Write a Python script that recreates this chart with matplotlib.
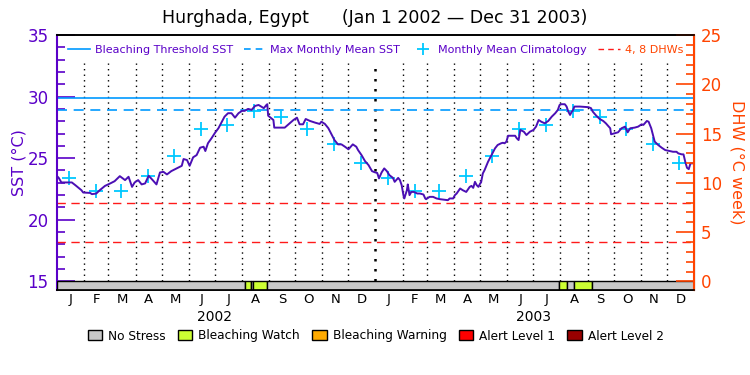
import numpy as np
import pandas as pd
import matplotlib
matplotlib.use("Agg")
import matplotlib.pyplot as plt
from matplotlib.lines import Line2D
from matplotlib.patches import Patch
from matplotlib.ticker import MultipleLocator
import matplotlib.transforms as mtransforms

# ---- data ----
start_date = "2002-01-01"
end_date = "2004-01-01"

# days since Jan 1 2002 and SST (deg C)
sst_day = [0, 2, 5, 17, 21, 28, 30, 38, 40, 45, 49, 55, 61, 66, 72, 78, 82, 86, 89, 93,
           97, 101, 105, 108, 114, 116, 118, 122, 126, 131, 141, 143, 145, 149, 152, 156,
           160, 164, 168, 170, 173, 177, 181, 185, 189, 192, 196, 200, 204, 208, 212, 215,
           219, 223, 227, 231, 235, 237, 240, 241, 242, 248, 249, 261, 271, 275, 278, 282,
           285, 290, 296, 301, 303, 307, 311, 315, 318, 322, 326, 330, 334, 339, 343, 345,
           349, 353, 357, 361, 364, 367, 369, 372, 375, 378, 381, 385, 387, 391, 393, 395,
           397, 398, 401, 402, 404, 406, 409, 413, 416, 420, 422, 423, 427, 431, 435, 439,
           448, 450, 454, 456, 458, 462, 465, 469, 473, 475, 477, 479, 481, 483, 485, 486,
           488, 490, 494, 496, 500, 502, 505, 509, 511, 513, 515, 517, 525, 527, 529, 531,
           535, 538, 542, 546, 549, 552, 555, 559, 563, 567, 571, 574, 576, 578, 582, 584,
           586, 588, 590, 591, 593, 599, 609, 612, 614, 618, 622, 626, 629, 634, 635, 639,
           643, 647, 651, 654, 657, 662, 666, 670, 672, 676, 678, 681, 683, 685, 689, 693,
           697, 701, 706, 710, 712, 716, 718, 720, 722, 724, 726, 729]
sst_val = [23.54, 23.40, 23.03, 23.03, 22.81, 22.40, 22.21, 22.18, 22.08, 22.13, 22.40, 22.75,
           22.95, 23.13, 23.54, 23.22, 23.49, 22.67, 23.03, 23.22, 22.87, 22.95, 23.57, 23.35,
           22.87, 23.35, 23.84, 23.89, 23.68, 23.95, 24.30, 24.38, 24.93, 24.85, 24.38, 25.07,
           25.25, 25.85, 25.93, 25.58, 26.21, 26.61, 27.05, 27.43, 27.96, 28.37, 28.65, 28.65,
           28.29, 28.65, 28.84, 28.84, 29.00, 28.92, 29.24, 29.32, 29.14, 29.06, 29.32, 29.38,
           28.45, 28.10, 27.48, 27.48, 28.10, 28.29, 27.75, 27.75, 28.18, 28.02, 27.88, 27.78,
           27.96, 27.78, 27.43, 26.88, 26.47, 26.12, 26.12, 25.93, 25.72, 26.12, 25.93, 25.66,
           25.25, 24.76, 24.44, 23.95, 23.86, 23.80, 23.36, 23.84, 24.17, 23.95, 23.62, 23.40,
           23.08, 23.40, 23.22, 22.81, 22.00, 21.73, 22.40, 22.87, 22.00, 22.26, 22.26, 22.13,
           22.13, 22.05, 21.73, 21.67, 21.86, 21.86, 21.73, 21.67, 21.59, 21.73, 21.73, 22.00,
           22.13, 22.54, 22.40, 22.26, 22.67, 22.75, 22.59, 23.08, 22.81, 22.67, 22.95, 23.03,
           23.76, 24.03, 24.71, 24.98, 25.52, 25.80, 26.07, 26.21, 26.25, 26.21, 26.34, 26.82,
           26.82, 26.61, 26.47, 27.29, 27.15, 26.88, 27.15, 27.29, 27.56, 28.10, 27.96, 27.83,
           28.02, 28.37, 28.65, 28.92, 29.32, 29.38, 29.38, 29.19, 28.78, 28.51, 28.78, 28.84,
           29.19, 29.19, 29.14, 29.06, 28.78, 28.45, 28.18, 28.02, 27.83, 27.43, 26.94, 27.02,
           27.10, 27.43, 27.56, 27.10, 27.43, 27.48, 27.56, 27.75, 27.70, 28.02, 27.96, 27.43,
           26.88, 26.34, 26.07, 25.85, 25.66, 25.60, 25.52, 25.52, 25.39, 25.31, 25.31, 24.71,
           24.22, 24.11, 24.58, 24.58]

# monthly mean climatology (Jan..Dec)
clim_months = ["Jan", "Feb", "Mar", "Apr", "May", "Jun", "Jul", "Aug", "Sep", "Oct", "Nov", "Dec"]
clim_sst = [23.40, 22.32, 22.32, 23.54, 25.17, 27.35, 27.70, 28.86, 28.32, 27.35, 26.12, 24.58]

mmm_sst = 28.9          # max monthly mean
threshold_sst = 29.9    # bleaching threshold = MMM + 1
dhw_levels = [4, 8]

# bleaching alert status periods (days since Jan 1 2002)
status_start = [0, 216, 222, 225, 241, 575, 585, 593, 613]
status_end = [216, 222, 225, 241, 575, 585, 593, 613, 730]
status_level = [0, 1, 0, 1, 0, 1, 0, 1, 0]

status_names = ["No Stress", "Bleaching Watch", "Bleaching Warning", "Alert Level 1", "Alert Level 2"]
status_colors = ["#c8c8c8", "#ccff33", "#ffaa00", "#ff0000", "#990000"]

month_letters = list("JFMAMJJASOND")
years = ["2002", "2003"]

# ---- styling ----
sst_color = "#5a00c8"
line_color = "#4b0fb4"
thr_color = "#0099ff"
clim_color = "#00c8ff"
dhw_color = "#ff4400"
dhw_line_color = "#ff1a1a"

sst_lo, sst_hi = 14.3, 35.0
dhw_per_sst = 1.25  # 20 deg C span <-> 25 DHW span

t0 = pd.Timestamp(start_date)
t_end = pd.Timestamp(end_date)
dates = t0 + pd.to_timedelta(sst_day, unit="D")

fig = plt.figure(figsize=(7.5, 3.75), dpi=100)
ax = fig.add_axes([0.076, 0.2267, 0.8493, 0.68])

ax.set_xlim(t0, t_end)
ax.set_ylim(sst_lo, sst_hi)

# month grid
month_starts = pd.date_range(t0, t_end, freq="MS")
for ms in month_starts[1:-1]:
    lw = 1.8 if ms.month == 1 else 1.0
    ax.plot([ms, ms], [15, 32.7], color="black", lw=lw, ls=(0, (1, 3)), zorder=1)

# reference lines
ax.axhline(threshold_sst, color=thr_color, lw=1.2, zorder=2)
ax.axhline(mmm_sst, color=thr_color, lw=1.2, ls=(0, (6, 4)), zorder=2)
for lev in dhw_levels:
    ax.axhline(15 + lev / dhw_per_sst, color=dhw_line_color, lw=1.0, ls=(0, (6, 4)), zorder=2)

# climatology crosses at mid-month
for y in years:
    mids = [pd.Timestamp(f"{y}-{i + 1:02d}-15") for i in range(12)]
    ax.plot(mids, clim_sst, ls="none", marker="+", ms=10, mew=1.3, color=clim_color, zorder=3)

ax.plot(dates, sst_val, color=line_color, lw=1.4, zorder=4)

# status bar
for s, e, lev in zip(status_start, status_end, status_level):
    ax.axvspan(t0 + pd.Timedelta(days=s), t0 + pd.Timedelta(days=e), ymin=0,
               ymax=(15 - sst_lo) / (sst_hi - sst_lo), facecolor=status_colors[lev],
               edgecolor="black", lw=1.0, zorder=5)

# x ticks: month letters centred on each month
mid_month = [a + (b - a) / 2 for a, b in zip(month_starts[:-1], month_starts[1:])]
ax.set_xticks(mid_month)
ax.set_xticklabels(month_letters * 2, fontsize=9.5)
ax.tick_params(axis="x", length=0, pad=2)
trans = mtransforms.blended_transform_factory(ax.transData, ax.transAxes)
for y in years:
    ax.text(pd.Timestamp(f"{y}-07-01"), -0.104, y, transform=trans, ha="center", va="center",
            fontsize=10)

# left axis
ax.set_yticks([15, 20, 25, 30, 35])
ax.yaxis.set_minor_locator(MultipleLocator(1))
ax.tick_params(axis="y", which="major", direction="in", length=13, width=1.2, colors=sst_color,
               labelsize=12, pad=6)
ax.tick_params(axis="y", which="minor", direction="in", length=6, width=1.2, colors=sst_color)
ax.spines["left"].set_color(sst_color)
ax.spines["left"].set_linewidth(1.5)
ax.set_ylabel("SST (°C)", color=sst_color, fontsize=11.5, labelpad=1)

# right axis: DHW
ax2 = ax.twinx()
ax2.set_ylim((sst_lo - 15) * dhw_per_sst, (sst_hi - 15) * dhw_per_sst)
ax2.set_yticks([0, 5, 10, 15, 20, 25])
ax2.yaxis.set_minor_locator(MultipleLocator(1))
ax2.tick_params(axis="y", which="major", direction="in", length=13, width=1.2, colors=dhw_color,
                labelsize=12, pad=5)
ax2.tick_params(axis="y", which="minor", direction="in", length=6, width=1.2, colors=dhw_color)
ax2.spines["right"].set_color(dhw_color)
ax2.spines["right"].set_linewidth(1.5)
ax2.spines["left"].set_visible(False)
ax2.set_ylabel("DHW (°C week)", color=dhw_color, fontsize=11.5, rotation=-90, labelpad=16)

for a in (ax, ax2):
    a.spines["top"].set_linewidth(1.2)
    a.spines["bottom"].set_linewidth(1.2)

fig.suptitle("Hurghada, Egypt      (Jan 1 2002 \u2014 Dec 31 2003)", x=0.5, y=0.975,
             fontsize=12.5, va="top")

# top legend
handles = [
    Line2D([], [], color=thr_color, lw=1.2),
    Line2D([], [], color=thr_color, lw=1.2, ls=(0, (4, 3))),
    Line2D([], [], color=clim_color, ls="none", marker="+", ms=9, mew=1.3),
    Line2D([], [], color=dhw_line_color, lw=1.0, ls=(0, (4, 3))),
]
labels = ["Bleaching Threshold SST", "Max Monthly Mean SST", "Monthly Mean Climatology", "4, 8 DHWs"]
leg = ax.legend(handles, labels, loc="center", bbox_to_anchor=(0.5, 0.94), ncol=4, frameon=False,
                fontsize=8, handlelength=2.0, handletextpad=0.4, columnspacing=1.0)
for txt, c in zip(leg.get_texts(), [sst_color, sst_color, sst_color, dhw_color]):
    txt.set_color(c)

# status legend
patches = [Patch(facecolor=c, edgecolor="black", lw=1.0) for c in status_colors]
fig.legend(patches, status_names, loc="center", bbox_to_anchor=(0.501, 0.104), ncol=5,
           frameon=False, fontsize=8.7, handlelength=1.2, handleheight=0.9,
           handletextpad=0.5, columnspacing=1.0)

fig.savefig("out.png", dpi=100)
